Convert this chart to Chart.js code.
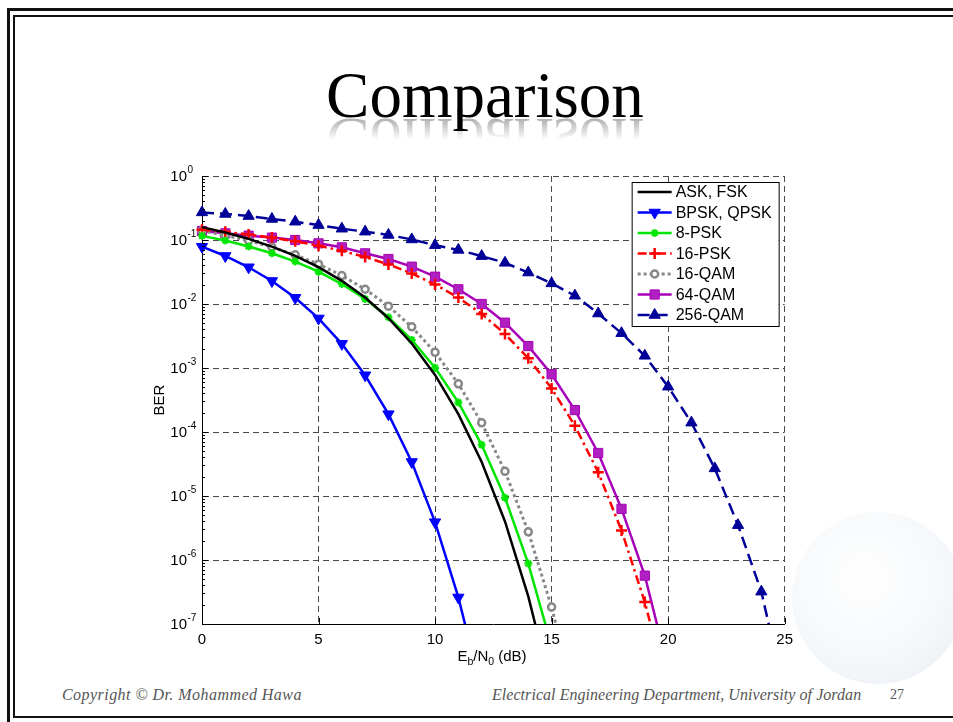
<!DOCTYPE html>
<html>
<head>
<meta charset="utf-8">
<title>Comparison</title>
<script src="https://cdn.jsdelivr.net/npm/chart.js@4.4.1/dist/chart.umd.min.js"></script>
<style>
  html, body { margin: 0; padding: 0; background: #fff; overflow: hidden; }
  #slide { position: relative; width: 953px; height: 722px; overflow: hidden; background: #fff; }
  .frame { position: absolute; box-sizing: border-box; }
  #outer { left: 7px; top: 8px; width: 1000px; height: 800px; border: 3px solid #111; }
  #inner { left: 13px; top: 15px; width: 1000px; height: 703px; border: 2px solid #111; }
  #globe {
    position: absolute; left: 792px; top: 512px; width: 172px; height: 172px; border-radius: 50%;
    background: radial-gradient(circle at 42% 38%, rgba(255,255,255,0) 0%, rgba(232,238,244,0.45) 60%, rgba(214,225,235,0.5) 88%, rgba(235,240,245,0.2) 100%);
  }
  #title {
    position: absolute; left: 0; width: 970px; top: 63px; text-align: center;
    font: 65px/64px "Liberation Serif", "DejaVu Serif", serif; color: #000;
    -webkit-box-reflect: below -18px linear-gradient(transparent 52%, rgba(0,0,0,0.45));
  }
  #chartWrap { position: absolute; left: 140px; top: 160px; width: 660px; height: 520px; }
  #xlabel {
    position: absolute; left: 392px; width: 200px; top: 647px; text-align: center;
    font: 15px/18px "Liberation Sans", Arial, sans-serif; color: #000;
  }
  #xlabel sub { font-size: 10.5px; vertical-align: -4px; line-height: 0; }
  .foot {
    position: absolute; top: 686px; font: italic 16px/18px "Liberation Serif", serif; color: #555;
  }
  #copy { left: 62px; letter-spacing: 0.45px; }
  #dept { left: 492px; letter-spacing: 0.05px; }
  #page { left: 890px; font-style: normal; font-size: 14px; }
</style>
</head>
<body>
<div id="slide">
  <div id="outer" class="frame"></div>
  <div id="inner" class="frame"></div>
  <div id="globe"></div>
  <div id="title">Comparison</div>
  <div id="chartWrap"><canvas id="berChart" width="660" height="520"></canvas></div>
  <div id="xlabel">E<sub>b</sub>/N<sub>0</sub> (dB)</div>
  <div id="copy" class="foot">Copyright © Dr. Mohammed Hawa</div>
  <div id="dept" class="foot">Electrical Engineering Department, University of Jordan</div>
  <div id="page" class="foot">27</div>
</div>
<script>
// Eb/N0 in dB, one value per marker position
const ebno = [0, 1, 2, 3, 4, 5, 6, 7, 8, 9, 10, 11, 12, 13, 14, 15, 16, 17, 18, 19, 20, 21, 22, 23, 24, 25];

// BER (each series starts at 0 dB)
const askFsk = [0.159, 0.131, 0.104, 0.079, 0.0565, 0.0377, 0.023, 0.0126, 0.006, 0.00242, 7.8e-4, 1.9e-4, 3.4e-5, 4.0e-6, 2.7e-7, 9.4e-9];
const bpskQpsk = [0.0786, 0.0563, 0.0375, 0.0229, 0.0125, 0.00595, 0.00239, 7.7e-4, 1.9e-4, 3.4e-5, 3.9e-6, 2.6e-7, 9.0e-9];
const psk8 = [0.116, 0.098, 0.079, 0.062, 0.046, 0.032, 0.0205, 0.012, 0.0062, 0.00275, 0.00101, 2.9e-4, 6.3e-5, 9.4e-6, 8.8e-7, 4.5e-8];
const psk16 = [0.145, 0.134, 0.122, 0.109, 0.0954, 0.0816, 0.0677, 0.0541, 0.0415, 0.03, 0.0202, 0.0126, 0.007, 0.0034, 0.00142, 4.8e-4, 1.25e-4, 2.35e-5, 2.9e-6, 2.2e-7, 8.6e-9];
const qam16 = [0.139, 0.118, 0.0976, 0.0774, 0.0586, 0.0419, 0.0278, 0.017, 0.00925, 0.0044, 0.00176, 5.65e-4, 1.39e-4, 2.43e-5, 2.76e-6, 1.84e-7, 6.2e-9];
const qam64 = [0.138, 0.127, 0.117, 0.109, 0.1, 0.0887, 0.0768, 0.0619, 0.0505, 0.0383, 0.0267, 0.017, 0.01, 0.0051, 0.0022, 8.0e-4, 2.2e-4, 4.7e-5, 6.3e-6, 5.7e-7, 2.0e-8];
const qam256 = [0.27, 0.255, 0.237, 0.213, 0.193, 0.171, 0.15, 0.135, 0.12, 0.102, 0.083, 0.07, 0.056, 0.044, 0.031, 0.021, 0.0135, 0.0071, 0.0035, 0.00155, 5.1e-4, 1.4e-4, 2.7e-5, 3.5e-6, 3.2e-7, 8e-9];

const seriesNames = ['ASK, FSK', 'BPSK, QPSK', '8-PSK', '16-PSK', '16-QAM', '64-QAM', '256-QAM'];

const xTicks = [0, 5, 10, 15, 20, 25];
const yTicks = [1e-7, 1e-6, 1e-5, 1e-4, 1e-3, 1e-2, 1e-1, 1];
const yTickBase = '10';
const yTickExponents = ['-7', '-6', '-5', '-4', '-3', '-2', '-1', '0'];

function toPoints(values) {
    return values.map((v, i) => ({ x: ebno[i], y: v }));
}

// small marker painter for the legend, same shapes as Chart.js point styles
function drawMarker(ctx, ds, x, y) {
    const r = ds.pointRadius;
    if (!r) return;
    ctx.save();
    ctx.setLineDash([]);
    ctx.lineWidth = ds.pointBorderWidth;
    ctx.strokeStyle = ds.pointBorderColor;
    ctx.fillStyle = ds.pointBackgroundColor;
    ctx.translate(x, y);
    ctx.rotate((ds.pointRotation || 0) * Math.PI / 180);
    ctx.beginPath();
    if (ds.pointStyle === 'triangle') {
        for (let k = 0; k < 3; k++) {
            const a = k * 2 * Math.PI / 3;
            if (k === 0) ctx.moveTo(Math.sin(a) * r, -Math.cos(a) * r);
            else ctx.lineTo(Math.sin(a) * r, -Math.cos(a) * r);
        }
        ctx.closePath();
        ctx.fill();
        ctx.stroke();
    } else if (ds.pointStyle === 'rect') {
        const s = r * Math.SQRT1_2;
        ctx.rect(-s, -s, 2 * s, 2 * s);
        ctx.fill();
        ctx.stroke();
    } else if (ds.pointStyle === 'circle') {
        ctx.arc(0, 0, r, 0, 2 * Math.PI);
        ctx.fill();
        ctx.stroke();
    } else if (ds.pointStyle === 'cross') {
        ctx.moveTo(-r, 0); ctx.lineTo(r, 0);
        ctx.moveTo(0, -r); ctx.lineTo(0, r);
        ctx.stroke();
    } else if (ds.pointStyle === 'star') {
        const d = r * Math.SQRT1_2;
        ctx.moveTo(-r, 0); ctx.lineTo(r, 0);
        ctx.moveTo(0, -r); ctx.lineTo(0, r);
        ctx.moveTo(-d, -d); ctx.lineTo(d, d);
        ctx.moveTo(-d, d); ctx.lineTo(d, -d);
        ctx.stroke();
    }
    ctx.restore();
}

// inward major/minor ticks on the left and bottom axes, plus 10^n labels
const axisTicks = {
    id: 'axisTicks',
    afterDatasetsDraw(chart) {
        const { ctx, chartArea, scales } = chart;
        ctx.save();
        ctx.strokeStyle = '#000';
        ctx.lineWidth = 1;
        ctx.beginPath();
        for (let d = -7; d < 0; d++) {
            for (let m = 2; m < 10; m++) {
                const py = Math.round(scales.y.getPixelForValue(m * Math.pow(10, d))) + 0.5;
                ctx.moveTo(chartArea.left, py);
                ctx.lineTo(chartArea.left + 3, py);
            }
        }
        yTicks.forEach(v => {
            const py = Math.round(scales.y.getPixelForValue(v)) + 0.5;
            ctx.moveTo(chartArea.left, py);
            ctx.lineTo(chartArea.left + 6, py);
        });
        xTicks.forEach(v => {
            const px = Math.round(scales.x.getPixelForValue(v)) + 0.5;
            ctx.moveTo(px, chartArea.bottom);
            ctx.lineTo(px, chartArea.bottom - 6);
        });
        ctx.stroke();

        ctx.fillStyle = '#000';
        ctx.textBaseline = 'middle';
        const baseRight = chartArea.left - 15;
        yTicks.forEach((v, i) => {
            const py = scales.y.getPixelForValue(v);
            ctx.font = '15px "Liberation Sans", Arial, sans-serif';
            ctx.textAlign = 'right';
            ctx.fillText(yTickBase, baseRight, py + 1);
            ctx.font = '10px "Liberation Sans", Arial, sans-serif';
            ctx.textAlign = 'left';
            ctx.fillText(yTickExponents[i], baseRight + 0.5, py - 6);
        });
        ctx.restore();
    }
};

// boxed legend in the upper right corner of the plot
const boxLegend = {
    id: 'boxLegend',
    afterDatasetsDraw(chart) {
        const { ctx, chartArea } = chart;
        const w = 147, h = 144;
        const left = chartArea.right - 6 - w;
        const top = chartArea.top + 6;
        ctx.save();
        ctx.fillStyle = '#fff';
        ctx.fillRect(left, top, w, h);
        ctx.strokeStyle = '#000';
        ctx.lineWidth = 1;
        ctx.strokeRect(left + 0.5, top + 0.5, w, h);
        ctx.font = '16px "Liberation Sans", Arial, sans-serif';
        ctx.textBaseline = 'middle';
        chart.data.datasets.forEach((ds, i) => {
            const y = top + 10 + i * 20.5;
            ctx.save();
            ctx.strokeStyle = ds.borderColor;
            ctx.lineWidth = ds.borderWidth;
            ctx.setLineDash(ds.borderDash || []);
            ctx.beginPath();
            ctx.moveTo(left + 6, y);
            ctx.lineTo(left + 40, y);
            ctx.stroke();
            ctx.restore();
            drawMarker(ctx, ds, left + 23, y);
            ctx.fillStyle = '#000';
            ctx.fillText(ds.label, left + 44, y + 1);
        });
        ctx.restore();
    }
};

const gridColor = (c) => (c.index === 0 ? 'rgba(0,0,0,0)' : '#4a4a4a');
const clipBox = { left: 12, top: 12, right: 12, bottom: 0 };

function initializeChart() {
    Chart.defaults.font.family = '"Liberation Sans", Arial, Helvetica, sans-serif';
    Chart.defaults.color = '#000';

    new Chart(document.getElementById('berChart'), {
        type: 'line',
        data: {
            datasets: [
                {
                    label: seriesNames[0],
                    data: toPoints(askFsk),
                    borderColor: '#000000',
                    borderWidth: 2.5,
                    pointRadius: 0,
                    pointStyle: false,
                },
                {
                    label: seriesNames[1],
                    data: toPoints(bpskQpsk),
                    borderColor: '#0000ff',
                    borderWidth: 2.5,
                    pointStyle: 'triangle',
                    pointRotation: 180,
                    pointRadius: 6.5,
                    pointBorderWidth: 1,
                    pointBorderColor: '#0000ff',
                    pointBackgroundColor: '#0000ff',
                },
                {
                    label: seriesNames[2],
                    data: toPoints(psk8),
                    borderColor: '#00e600',
                    borderWidth: 2.5,
                    pointStyle: 'star',
                    pointRadius: 4,
                    pointBorderWidth: 2,
                    pointBorderColor: '#00e600',
                    pointBackgroundColor: '#00e600',
                },
                {
                    label: seriesNames[3],
                    data: toPoints(psk16),
                    borderColor: '#ff0000',
                    borderWidth: 2.5,
                    borderDash: [9, 4, 2.5, 4],
                    pointStyle: 'cross',
                    pointRadius: 5.5,
                    pointBorderWidth: 2.5,
                    pointBorderColor: '#ff0000',
                    pointBackgroundColor: '#ff0000',
                },
                {
                    label: seriesNames[4],
                    data: toPoints(qam16),
                    borderColor: '#888888',
                    borderWidth: 3,
                    borderDash: [3, 3],
                    pointStyle: 'circle',
                    pointRadius: 3.5,
                    pointBorderWidth: 2.5,
                    pointBorderColor: '#888888',
                    pointBackgroundColor: '#ffffff',
                },
                {
                    label: seriesNames[5],
                    data: toPoints(qam64),
                    borderColor: '#a800b8',
                    borderWidth: 2.5,
                    pointStyle: 'rect',
                    pointRadius: 6.5,
                    pointBorderWidth: 1,
                    pointBorderColor: '#a800b8',
                    pointBackgroundColor: '#b020c0',
                },
                {
                    label: seriesNames[6],
                    data: toPoints(qam256),
                    borderColor: '#000099',
                    borderWidth: 2.5,
                    borderDash: [12, 6],
                    pointStyle: 'triangle',
                    pointRadius: 6.5,
                    pointBorderWidth: 1,
                    pointBorderColor: '#000099',
                    pointBackgroundColor: '#000099',
                },
            ],
        },
        options: {
            responsive: false,
            animation: false,
            clip: clipBox,
            elements: { line: { tension: 0 } },
            layout: { padding: { top: 16, right: 15, left: 0, bottom: 0 } },
            plugins: {
                legend: { display: false },
                tooltip: { enabled: false },
            },
            scales: {
                x: {
                    type: 'linear',
                    position: 'bottom',
                    min: 0,
                    max: 25,
                    afterBuildTicks: (axis) => { axis.ticks = xTicks.map(v => ({ value: v })); },
                    afterFit: (axis) => { axis.height = 56; },
                    ticks: { autoSkip: false, maxRotation: 0, padding: 7, font: { size: 15 }, color: '#000' },
                    grid: { color: gridColor, lineWidth: 1, drawTicks: false },
                    border: { display: true, color: '#000', width: 1, dash: [6, 4] },
                },
                y: {
                    type: 'logarithmic',
                    min: 1e-7,
                    max: 1,
                    afterBuildTicks: (axis) => { axis.ticks = yTicks.map(v => ({ value: v })); },
                    afterFit: (axis) => { axis.width = 62; },
                    ticks: { display: false },
                    grid: { color: gridColor, lineWidth: 1, drawTicks: false },
                    border: { display: true, color: '#000', width: 1, dash: [6, 4] },
                    title: { display: true, text: 'BER', font: { size: 15 }, color: '#000', padding: { top: 11, bottom: 0 } },
                },
            },
        },
        plugins: [axisTicks, boxLegend],
    });
}

document.addEventListener('DOMContentLoaded', () => {
    initializeChart();
});
</script>
</body>
</html>
